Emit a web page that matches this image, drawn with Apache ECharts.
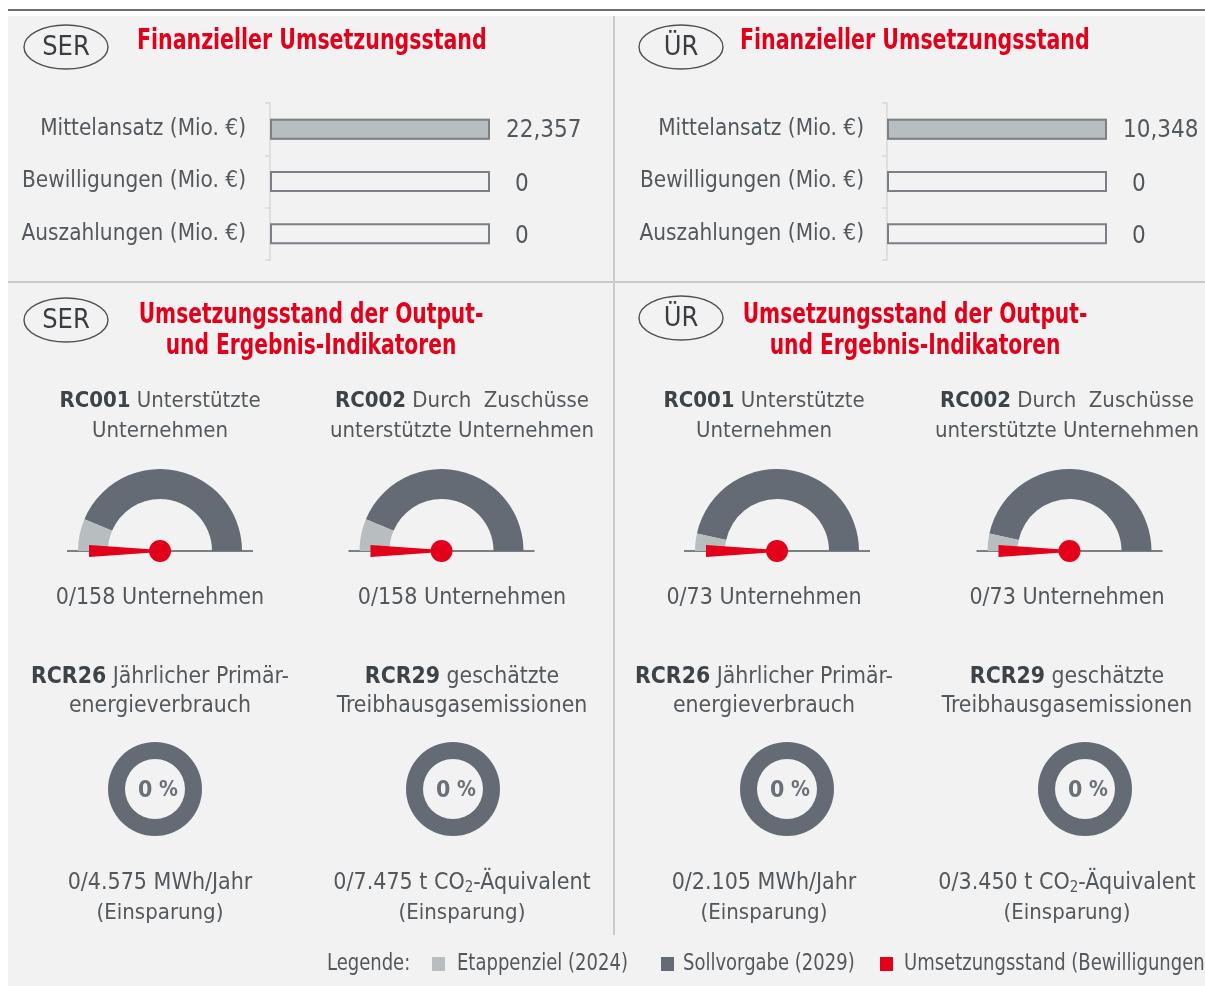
<!DOCTYPE html>
<html>
<head>
<meta charset="utf-8">
<script src="https://cdn.jsdelivr.net/npm/echarts@6/dist/echarts.min.js"></script>
<style>
  html, body { margin: 0; padding: 0; background: #ffffff; }
  #chart { width: 1205px; height: 986px; }
</style>
</head>
<body>
<div id="chart"></div>
<script>
// ---------- data ----------
const regions = ['SER', 'ÜR'];

const finCategories = ['Mittelansatz (Mio. €)', 'Bewilligungen (Mio. €)', 'Auszahlungen (Mio. €)'];
const finSER = [22.357, 0, 0];
const finUR = [10.348, 0, 0];

const rcCodes = ['RC001', 'RC002'];
const rcTitleLines = [['Unterstützte', 'Unternehmen'], ['Durch  Zuschüsse', 'unterstützte Unternehmen']];
const rcUnit = 'Unternehmen';
const rcTargetSER = [158, 158];
const rcMilestoneSER = [20, 20];
const rcActualSER = [0, 0];
const rcTargetUR = [73, 73];
const rcMilestoneUR = [5, 5];
const rcActualUR = [0, 0];

const rcrCodes = ['RCR26', 'RCR29'];
const rcrTitleLines = [['Jährlicher Primär-', 'energieverbrauch'], ['geschätzte', 'Treibhausgasemissionen']];
const rcrUnits = ['MWh/Jahr', 't CO{sub|2}-Äquivalent'];
const rcrNote = '(Einsparung)';
const rcrTargetSER = [4575, 7475];
const rcrActualSER = [0, 0];
const rcrTargetUR = [2105, 3450];
const rcrActualUR = [0, 0];

const finTitle = 'Finanzieller Umsetzungsstand';
const outTitleLines = ['Umsetzungsstand der Output-', 'und Ergebnis-Indikatoren'];
const legendTitle = 'Legende:';
const legendLabels = ['Etappenziel (2024)', 'Sollvorgabe (2029)', 'Umsetzungsstand (Bewilligungen)'];

// ---------- styling ----------
const COL = {
  red: '#e2001a',
  light: '#b8bdc0',
  dark: '#646b74',
  text: '#53585d',
  strong: '#3e4347',
  bg: '#f2f2f2',
  divider: '#cbcbcb',
  barBorder: '#7b8086'
};
const F_COND = '"DejaVu Sans Condensed", "DejaVu Sans", sans-serif';
// headings and legend use a horizontally compressed condensed face
const TITLE_SQUEEZE = 0.815;
const LEGEND_SQUEEZE = 0.87;

// per-panel placement
const panels = [
  {
    name: regions[0], fin: finSER,
    rcTarget: rcTargetSER, rcMilestone: rcMilestoneSER, rcActual: rcActualSER,
    rcrTarget: rcrTargetSER, rcrActual: rcrActualSER,
    badge1: [66, 47], badge2: [66, 320], titleX: 137, outTitleX: 311,
    gridLeft: 270, labelMargin: 18,
    textX: [160, 462], gaugeX: [160, 441.5], donutX: [155, 453]
  },
  {
    name: regions[1], fin: finUR,
    rcTarget: rcTargetUR, rcMilestone: rcMilestoneUR, rcActual: rcActualUR,
    rcrTarget: rcrTargetUR, rcrActual: rcrActualUR,
    badge1: [681, 47], badge2: [681, 318], titleX: 740, outTitleX: 915,
    gridLeft: 887, labelMargin: 17,
    textX: [764, 1067], gaugeX: [777, 1069.5], donutX: [787, 1085]
  }
];

// ---------- helpers ----------
function fmtThousands(n) {
  return String(n).replace(/\B(?=(\d{3})+(?!\d))/g, '.');
}
function fmtMio(v) {
  return v === 0 ? '0' : v.toFixed(3).replace('.', ',');
}
function txt(x, y, text, opts, squeeze) {
  opts = opts || {};
  return {
    type: 'text', x: x, y: y, z: 5, silent: true,
    scaleX: squeeze || 1,
    style: Object.assign({
      text: text,
      fontFamily: F_COND, fontSize: 22, fontWeight: 'normal',
      fill: COL.text,
      align: 'center', verticalAlign: 'middle',
      textAlign: 'center', textVerticalAlign: 'middle'
    }, opts)
  };
}
function richBold(size) {
  return { b: { fontFamily: F_COND, fontSize: size, fontWeight: 'bold', fill: COL.strong } };
}
const richSub = { sub: { fontFamily: F_COND, fontSize: 15, fontWeight: 'normal', fill: COL.text, lineHeight: 15, verticalAlign: 'bottom' } };

// ---------- build option ----------
const grids = [], xAxes = [], yAxes = [], series = [], graphics = [];

// page background, rule and dividers
graphics.push({ type: 'rect', z: -10, silent: true, shape: { x: 8, y: 16, width: 1197, height: 970 }, style: { fill: COL.bg } });
graphics.push({ type: 'line', z: 1, silent: true, shape: { x1: 8, y1: 10, x2: 1205, y2: 10 }, style: { stroke: '#6b7076', lineWidth: 2 } });
graphics.push({ type: 'line', z: 1, silent: true, shape: { x1: 614, y1: 16, x2: 614, y2: 935 }, style: { stroke: COL.divider, lineWidth: 2 } });
graphics.push({ type: 'line', z: 1, silent: true, shape: { x1: 8, y1: 282, x2: 1205, y2: 282 }, style: { stroke: COL.divider, lineWidth: 2 } });

panels.forEach(function (p, pi) {
  // region badges
  [p.badge1, p.badge2].forEach(function (c) {
    graphics.push({ type: 'ellipse', z: 2, silent: true, shape: { cx: c[0], cy: c[1], rx: 42, ry: 22 }, style: { fill: 'none', stroke: '#4d5155', lineWidth: 1.4 } });
    graphics.push(txt(c[0], c[1] + 1, p.name, { fontSize: 27, fill: '#3a3e42' }));
  });

  // section titles
  graphics.push(txt(p.titleX, 42, finTitle, { fontSize: 28, fontWeight: 'bold', fill: COL.red, align: 'left', textAlign: 'left' }, TITLE_SQUEEZE));
  outTitleLines.forEach(function (line, li) {
    graphics.push(txt(p.outTitleX, 316 + li * 31, line, { fontSize: 28, fontWeight: 'bold', fill: COL.red }, TITLE_SQUEEZE * 0.985));
  });

  // financial bars
  grids.push({ left: p.gridLeft, top: 103, width: 220, height: 157, outerBoundsMode: 'none', containLabel: false });
  xAxes.push({ gridIndex: pi, type: 'value', min: 0, max: p.fin[0], show: false });
  yAxes.push({
    gridIndex: pi, type: 'category', inverse: true, data: finCategories, offset: 6,
    axisLine: { show: true, lineStyle: { color: '#d8d8d8', width: 1.5 } },
    axisTick: { show: true, length: 5, lineStyle: { color: '#d8d8d8', width: 1.5 } },
    axisLabel: { margin: p.labelMargin, fontFamily: F_COND, fontSize: 22.4, color: COL.text, padding: [4, 0, 0, 0] }
  });
  series.push({
    type: 'bar', xAxisIndex: pi, yAxisIndex: pi, barWidth: 21, barGap: '-100%', z: 2, silent: true,
    data: p.fin, itemStyle: { color: COL.light }
  });
  series.push({
    type: 'bar', xAxisIndex: pi, yAxisIndex: pi, barWidth: 21, barGap: '-100%', z: 3, silent: true,
    data: p.fin.map(function (v) { return { value: p.fin[0], label: { distance: v === 0 ? 25 : 16, offset: [0, v === 0 ? 3 : 2] } }; }),
    itemStyle: { color: 'rgba(0,0,0,0)', borderColor: COL.barBorder, borderWidth: 2 },
    label: {
      show: true, position: 'right',
      fontFamily: F_COND, fontSize: 24, color: COL.text,
      formatter: function (d) { return fmtMio(p.fin[d.dataIndex]); }
    }
  });

  // output indicators (half gauges)
  rcCodes.forEach(function (code, k) {
    const tx = p.textX[k];
    graphics.push(txt(tx, 401, '{b|' + code + '} ' + rcTitleLines[k][0], { rich: richBold(22) }));
    graphics.push(txt(tx, 431, rcTitleLines[k][1]));
    graphics.push(txt(tx, 598, p.rcActual[k] + '/' + fmtThousands(p.rcTarget[k]) + ' ' + rcUnit, { fontSize: 23 }));

    const gx = p.gaugeX[k];
    graphics.push({ type: 'line', z: 1, silent: true, shape: { x1: gx - 93, y1: 551, x2: gx + 93, y2: 551 }, style: { stroke: '#7a7f84', lineWidth: 2 } });
    series.push({
      type: 'gauge', center: [gx, 551], radius: 82, startAngle: 180, endAngle: 0,
      min: 0, max: p.rcTarget[k], silent: true,
      axisLine: { lineStyle: { width: 30, color: [[p.rcMilestone[k] / p.rcTarget[k], COL.light], [1, COL.dark]] } },
      progress: { show: false },
      splitLine: { show: false }, axisTick: { show: false }, axisLabel: { show: false },
      pointer: {
        show: true, icon: 'path://M0,0 L12,0 L7,100 L5,100 Z',
        length: 71, width: 12, offsetCenter: [0, 0],
        itemStyle: { color: COL.red }
      },
      anchor: { show: true, showAbove: true, size: 22, itemStyle: { color: COL.red } },
      title: { show: false }, detail: { show: false },
      data: [{ value: p.rcActual[k] }]
    });
  });

  // result indicators (rings)
  rcrCodes.forEach(function (code, k) {
    const tx = p.textX[k];
    graphics.push(txt(tx, 677, '{b|' + code + '} ' + rcrTitleLines[k][0], { fontSize: 22.8, rich: richBold(22.8) }));
    graphics.push(txt(tx, 706, rcrTitleLines[k][1], { fontSize: 22.8 }));
    graphics.push(txt(tx, 883, p.rcrActual[k] + '/' + fmtThousands(p.rcrTarget[k]) + ' ' + rcrUnits[k], { fontSize: 23, lineHeight: 26, rich: richSub }));
    graphics.push(txt(tx, 913, rcrNote));

    const pct = Math.round(p.rcrActual[k] / p.rcrTarget[k] * 100);
    series.push({
      type: 'gauge', center: [p.donutX[k], 789], radius: 47, startAngle: 90, endAngle: -270,
      min: 0, max: 100, silent: true,
      axisLine: { lineStyle: { width: 17, color: [[1, COL.dark]] } },
      progress: { show: true, width: 17, itemStyle: { color: COL.red } },
      splitLine: { show: false }, axisTick: { show: false }, axisLabel: { show: false },
      pointer: { show: false }, anchor: { show: false }, title: { show: false },
      detail: {
        show: true, offsetCenter: [3, 2],
        formatter: function (v) { return '{n|' + v + '}{p| %}'; },
        rich: {
          n: { fontFamily: F_COND, fontSize: 23, fontWeight: 'bold', color: '#6a7078' },
          p: { fontFamily: F_COND, fontSize: 21, fontWeight: 'bold', color: '#6a7078' }
        }
      },
      data: [{ value: pct }]
    });
  });
});

// legend row
const legendColors = [COL.light, COL.dark, COL.red];
const legendSwatchX = [432, 661, 880];
const legendTextX = [457, 683, 904];
graphics.push(txt(327, 964, legendTitle, { fontSize: 23, align: 'left', textAlign: 'left' }, LEGEND_SQUEEZE));
legendLabels.forEach(function (label, i) {
  graphics.push({ type: 'rect', z: 5, silent: true, shape: { x: legendSwatchX[i], y: 957, width: 13, height: 14 }, style: { fill: legendColors[i] } });
  graphics.push(txt(legendTextX[i], 964, label, { fontSize: 23, align: 'left', textAlign: 'left' }, LEGEND_SQUEEZE));
});

const chart = echarts.init(document.getElementById('chart'), null, { renderer: 'canvas', width: 1205, height: 986 });
chart.setOption({
  animation: false,
  backgroundColor: '#ffffff',
  grid: grids,
  xAxis: xAxes,
  yAxis: yAxes,
  series: series,
  graphic: { elements: graphics }
});
</script>
</body>
</html>
